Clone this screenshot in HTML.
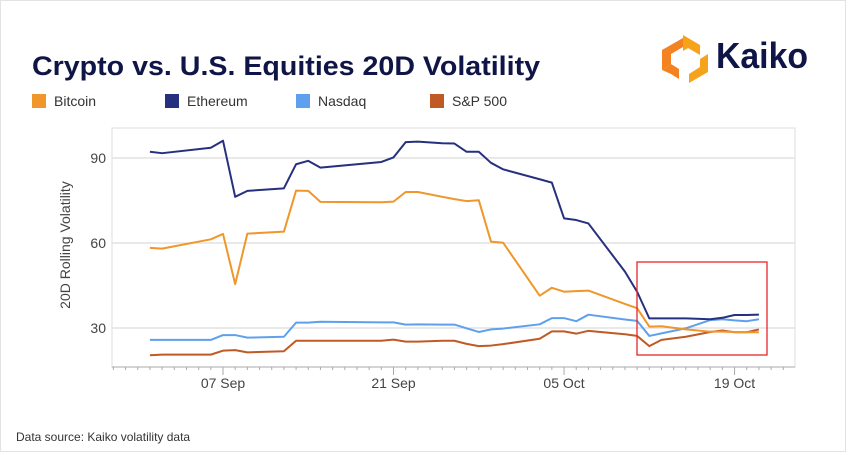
<!DOCTYPE html>
<html><head><meta charset="utf-8"><style>
body{margin:0;background:#fff;font-family:"Liberation Sans",sans-serif}
#wrap{position:relative;width:850px;height:455px;overflow:hidden}
</style></head><body>
<div id="wrap">
<svg id="chart" width="850" height="455" xmlns="http://www.w3.org/2000/svg">
<rect x="0.5" y="0.5" width="845" height="451" fill="#fff" stroke="#e3e3e3"/>
<text x="32" y="75" font-size="27" font-weight="bold" fill="#101548" textLength="508" lengthAdjust="spacingAndGlyphs">Crypto vs. U.S. Equities 20D Volatility</text>
<g>
<polygon points="683,35 700,45 700,55 688,48 683,51" fill="#f7a21b"/>
<polygon points="662,50 683,38 683,47 671,54 671,64 662,70" fill="#f58220"/>
<polygon points="700,59 708,54 708,72 689,83 689,74 700,67" fill="#f7a21b"/>
<polygon points="662,70 671,64 679,69 679,79 671,74" fill="#f58220"/>
<text x="716" y="68" font-size="36" font-weight="bold" fill="#101548" textLength="92" lengthAdjust="spacingAndGlyphs">Kaiko</text>
</g>
<g id="legend" font-size="14" fill="#333"></g>
<text transform="translate(70,245) rotate(-90)" text-anchor="middle" font-size="14" fill="#444">20D Rolling Volatility</text>
<g id="plot"></g>
<text x="16" y="441" font-size="12" fill="#333">Data source: Kaiko volatility data</text>
</svg>
</div>
<script>
const days=[-6,-5,-1,0,1,2,5,6,7,8,13,14,15,16,18,19,20,21,22,23,26,27,28,29,30,33,34,35,36,38,40,41,42,43,44];
const ethereum=[92.2,91.7,93.6,96.1,76.3,78.4,79.3,87.8,89,86.6,88.6,90.2,95.6,95.8,95.2,95.1,92.2,92.2,88.3,86,82.5,81.3,68.7,68.1,66.9,49.9,42.8,33.4,33.4,33.4,33.1,33.6,34.6,34.6,34.7];
const bitcoin=[58.3,58,61.3,63.2,45.5,63.3,64,78.5,78.4,74.5,74.4,74.6,78,78,76.3,75.5,74.8,75.1,60.5,60.1,41.4,44.2,42.8,43,43.2,38.5,37,30.5,30.6,29.5,28.7,28.7,28.6,28.5,28.5];
const nasdaq=[25.8,25.8,25.8,27.5,27.5,26.6,26.9,31.9,31.9,32.2,32,32,31.2,31.3,31.2,31.2,29.9,28.6,29.5,29.8,31.3,33.5,33.5,32.4,34.7,33,32.5,27.2,28.1,29.9,32.8,33.1,32.7,32.4,33.1];
const sp500=[20.4,20.6,20.6,22,22.2,21.4,21.8,25.5,25.5,25.5,25.5,25.9,25.2,25.2,25.5,25.5,24.4,23.6,23.8,24.3,26.2,28.8,28.8,28,29,27.8,27.2,23.6,25.8,26.9,28.6,29.1,28.5,28.5,29.5];
const yTicks=[30,60,90];
const xTickDays=[0,14,28,42];
const xTickLabels=["07 Sep","21 Sep","05 Oct","19 Oct"];
const seriesNames=["Bitcoin","Ethereum","Nasdaq","S&P 500"];
const seriesColors=["#f0962a","#27307e","#5ea0ee","#bf5a24"];

const NS="http://www.w3.org/2000/svg";
const L=112,R=795,T=128,B=367;
const xs=d=>223+d*12.18;
const ys=v=>328-(v-30)*(85/30);
function mk(tag,attrs,parent){const e=document.createElementNS(NS,tag);for(const k in attrs)e.setAttribute(k,attrs[k]);parent.appendChild(e);return e;}
const plot=document.getElementById('plot');
const frame=mk('rect',{x:L,y:T,width:R-L,height:B-T,fill:'none',stroke:'#ddd'},plot);


yTicks.forEach(v=>{
  const g=mk('line',{x1:L,x2:R,y1:ys(v),y2:ys(v),stroke:'#e2e2e2','stroke-width':1.5},plot);
  
  
  const t=mk('text',{x:L-6,y:ys(v)+5,'text-anchor':'end','font-size':14,fill:'#444'},plot);
  t.textContent=v;
  
  
});
mk('line',{x1:L,x2:R,y1:B,y2:B,stroke:'#aaa'},plot);
for(let d=-9;d<=47;d++){
  const x=xs(d); if(x<L||x>R) continue;
  const major=xTickDays.includes(d);
  mk('line',{x1:x,x2:x,y1:B,y2:B+(major?8:3),stroke:'#aaa'},plot);
}
xTickDays.forEach((d,i)=>{
  const t=mk('text',{x:xs(d),y:B+21,'text-anchor':'middle','font-size':14,fill:'#444'},plot);
  t.textContent=xTickLabels[i];
  
  
});
const all=[bitcoin,ethereum,nasdaq,sp500];
const order=[3,2,0,1];
order.forEach(i=>{
  const p=mk('polyline',{points:days.map((d,j)=>xs(d)+','+ys(all[i][j])).join(' '),fill:'none',stroke:seriesColors[i],'stroke-width':2,'stroke-linejoin':'round'},plot);
  
  
});
const hl=mk('rect',{x:637,y:262,width:130,height:93,fill:'none',stroke:'#e8262b','stroke-width':1.3},plot);


const lg=document.getElementById('legend');
const lx=[32,165,296,430];
seriesNames.forEach((n,i)=>{
  const g=mk('g',{},lg);
  
  
  mk('rect',{x:lx[i],y:94,width:14,height:14,fill:seriesColors[i]},g);
  const t=mk('text',{x:lx[i]+22,y:106},g);
  t.textContent=n;
});
</script>
</body></html>
